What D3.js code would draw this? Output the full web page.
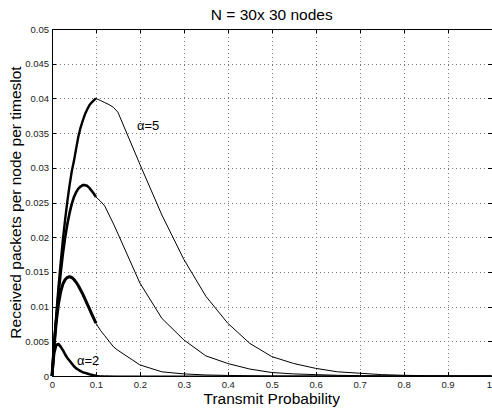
<!DOCTYPE html>
<html>
<head>
<meta charset="utf-8">
<script src="https://cdn.jsdelivr.net/npm/d3@7"></script>
<style>
body { margin: 0; background: #fff; }
svg { display: block; font-family: "Liberation Sans", Arial, Helvetica, sans-serif; }
</style>
</head>
<body>
<div class="canvas"></div>
<script>
// simulated part (dense, noisy -> drawn thick)
const fineP = [0, .005, .01, .015, .02, .025, .03, .035, .04, .045, .05,
    .055, .06, .065, .07, .075, .08, .085, .09, .095, .1];
const alpha5Fine = [0, .0048, .009, .013, .0165, .0198, .0226, .0252, .0275, .0295, .031,
    .0328, .0345, .0358, .0368, .0377, .0384, .039, .0394, .0397, .040];
const alpha4Fine = [0, .0045, .0085, .012, .015, .0177, .02, .0219, .0235, .0248, .0258,
    .0265, .027, .0273, .0275, .0275, .0274, .0271, .0267, .0263, .0258];
const alpha3Fine = [0, .0045, .008, .0105, .0122, .0133, .0139, .0142, .0143, .0142, .0139,
    .0135, .013, .0124, .0118, .0111, .0104, .0097, .009, .0083, .0076];
const alpha2Fine = [0, .0033, .0045, .0046, .0042, .0037, .0031, .0026, .0022, .0018, .0014,
    .0011, .0009, .0007, .00055, .00045, .00035, .00025, .00018, .00012, .00008];

// coarse part
const coarseP = [.1, .11, .12, .13, .14, .15, .2, .25, .3, .35, .4, .45, .5,
    .55, .6, .65, .7, .75, .8, .85, .9, .95, 1];
const alpha5Coarse = [.040, .0397, .0394, .0391, .0387, .038, .0305, .0232, .0168, .0115, .0076, .0047, .0028,
    .0018, .0011, .0006, .0004, .0002, .0001, .00005, 0, 0, 0];
const alpha4Coarse = [.0258, .0252, .0245, .0232, .0219, .0205, .0134, .0083, .0052, .0029, .0018, .001, .0005,
    .0003, .0002, .0001, .00005, 0, 0, 0, 0, 0, 0];
const alpha3Coarse = [.0076, .0066, .0058, .005, .0042, .0037, .0016, .0006, .0003, .00015, .00008, .00004, 0,
    0, 0, 0, 0, 0, 0, 0, 0, 0, 0];
const alpha2Coarse = [.00008, .00005, .00003, .00002, .00001, 0, 0, 0, 0, 0, 0, 0, 0,
    0, 0, 0, 0, 0, 0, 0, 0, 0, 0];

const xTicks = [0, .1, .2, .3, .4, .5, .6, .7, .8, .9, 1];
const yTicks = [0, .005, .01, .015, .02, .025, .03, .035, .04, .045, .05];

const svg = d3.select('.canvas')
    .append('svg')
        .attr('width', 492)
        .attr('height', 409);

const margin = {top: 29, left: 52};
const graphWidth = 439.5;
const graphHeight = 347;

const graph = svg.append('g')
    .attr('transform', `translate(${margin.left}, ${margin.top})`);

const x = d3.scaleLinear().domain([0, 1]).range([0, graphWidth]);
const y = d3.scaleLinear().domain([0, 0.05]).range([graphHeight, 0]);

// dotted grid
graph.append('g').selectAll('line.vx')
    .data(xTicks.slice(1, -1))
    .enter().append('line')
        .attr('x1', d => Math.round(x(d)) + 0.5)
        .attr('x2', d => Math.round(x(d)) + 0.5)
        .attr('y1', 0).attr('y2', graphHeight)
        .attr('stroke', '#777')
        .attr('stroke-dasharray', '1,3');
graph.append('g').selectAll('line.hy')
    .data(yTicks.slice(1, -1))
    .enter().append('line')
        .attr('y1', d => Math.round(y(d)) + 0.5)
        .attr('y2', d => Math.round(y(d)) + 0.5)
        .attr('x1', 0).attr('x2', graphWidth)
        .attr('stroke', '#777')
        .attr('stroke-dasharray', '1,3');

// axes, ticks pointing inward on all four sides
const fmt = d => String(+d.toFixed(3));
const bottom = graph.append('g')
    .attr('transform', `translate(0, ${graphHeight})`)
    .call(d3.axisBottom(x).tickValues(xTicks).tickFormat(fmt).tickSizeInner(-4).tickSizeOuter(0).tickPadding(5));
const left = graph.append('g')
    .call(d3.axisLeft(y).tickValues(yTicks).tickFormat(fmt).tickSizeInner(-4).tickSizeOuter(0).tickPadding(3));
graph.append('g')
    .call(d3.axisTop(x).tickValues(xTicks).tickFormat('').tickSizeInner(-4).tickSizeOuter(0));
graph.append('g')
    .attr('transform', `translate(${graphWidth}, 0)`)
    .call(d3.axisRight(y).tickValues(yTicks).tickFormat('').tickSizeInner(-4).tickSizeOuter(0));

graph.selectAll('.domain, .tick line')
    .attr('stroke', '#000')
    .attr('shape-rendering', 'crispEdges');
graph.selectAll('.tick text')
    .attr('font-size', 9.5)
    .attr('fill', '#222');

// last x label sits at the window edge: keep it inside
bottom.selectAll('.tick text')
    .filter(d => d === 1)
    .attr('text-anchor', 'end')
    .attr('dx', 0);

// curves
const line = d3.line()
    .x(d => x(d[0]))
    .y(d => y(d[1]));

const curves = [
    {fine: alpha2Fine, coarse: alpha2Coarse, w: 2.6},
    {fine: alpha3Fine, coarse: alpha3Coarse, w: 3},
    {fine: alpha4Fine, coarse: alpha4Coarse, w: 2.6},
    {fine: alpha5Fine, coarse: alpha5Coarse, w: 2.4}
];

curves.forEach(c => {
    graph.append('path')
        .attr('d', line(coarseP.map((p, i) => [p, c.coarse[i]])))
        .attr('fill', 'none')
        .attr('stroke', '#000')
        .attr('stroke-width', 1);
    graph.append('path')
        .attr('d', line(fineP.map((p, i) => [p, c.fine[i]])))
        .attr('fill', 'none')
        .attr('stroke', '#000')
        .attr('stroke-width', c.w)
        .attr('stroke-linejoin', 'round');
});

// curve labels
svg.append('text')
    .attr('x', 137).attr('y', 130)
    .attr('font-size', 13)
    .text('α=5');
svg.append('text')
    .attr('x', 77).attr('y', 365)
    .attr('font-size', 13)
    .text('α=2');

// title and axis labels
svg.append('text')
    .attr('x', margin.left + graphWidth / 2).attr('y', 20)
    .attr('text-anchor', 'middle')
    .attr('font-size', 15.5)
    .text('N = 30x 30 nodes');
svg.append('text')
    .attr('x', margin.left + graphWidth / 2).attr('y', 404)
    .attr('text-anchor', 'middle')
    .attr('font-size', 15.5)
    .text('Transmit Probability');
svg.append('text')
    .attr('transform', `translate(21, ${margin.top + graphHeight / 2}) rotate(-90)`)
    .attr('text-anchor', 'middle')
    .attr('font-size', 15.5)
    .text('Received packets per node per timeslot');
</script>
</body>
</html>
